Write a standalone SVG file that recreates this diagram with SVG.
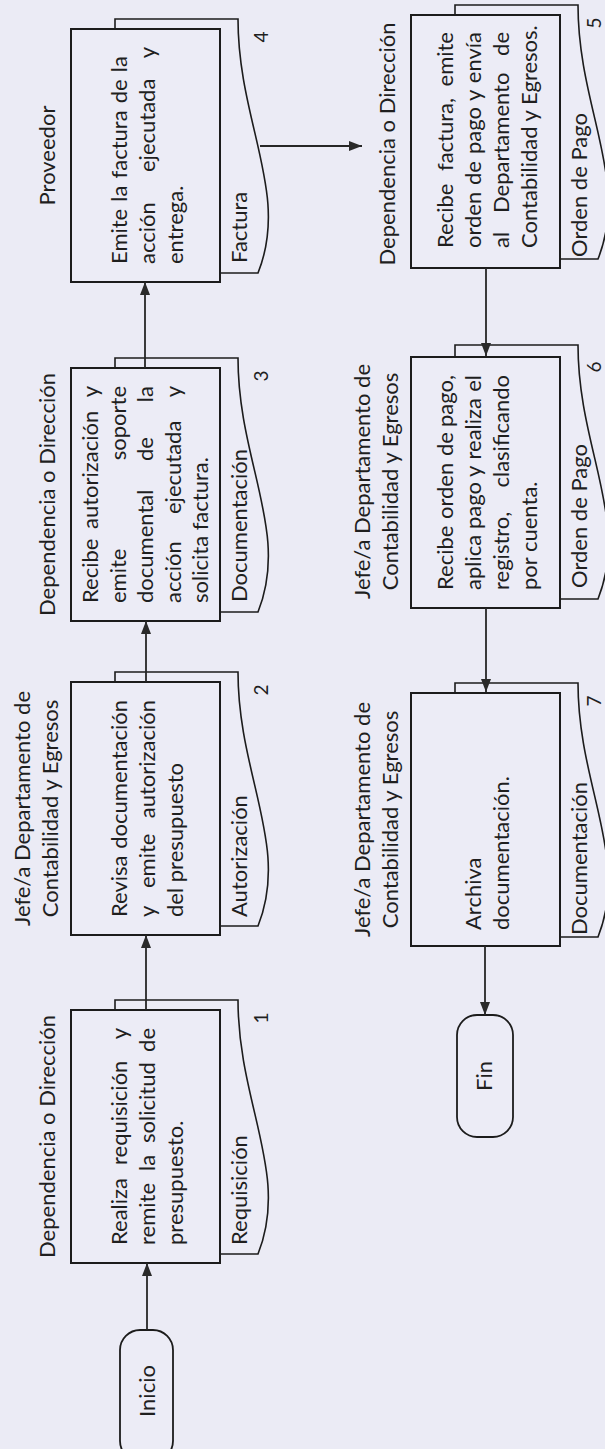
<svg xmlns="http://www.w3.org/2000/svg" width="605" height="1449" viewBox="0 0 605 1449">
  <style>
    .bg { fill: #ebebf5; }
    .box { fill: #ececf6; stroke: #1c1c1c; stroke-width: 2; }
    .doc { fill: #ececf6; stroke: #1c1c1c; stroke-width: 1.6; }
    .term { fill: #ececf6; stroke: #1c1c1c; stroke-width: 1.8; }
    text { font-family: Lato, "Liberation Sans", sans-serif; font-size: 22px; fill: #1f1f1f; }
    .c { text-anchor: middle; }
    .e { text-anchor: end; }
    .num { font-size: 19px; text-anchor: middle; }
    .conn { stroke: #262626; stroke-width: 1.8; fill: none; marker-end: url(#arrow); }
  </style>
  <defs>
    <marker id="arrow" markerUnits="userSpaceOnUse" viewBox="0 0 13 10" markerWidth="13" markerHeight="10" refX="13" refY="5" orient="auto">
      <path d="M0,0 L13,5 L0,10 Z" fill="#2a2a2a"/>
    </marker>
    <!-- document shape sitting behind each process box (box-relative coordinates) -->
    <path id="docShape" d="M9,44 H263 V167 C159,167 89,219 9,187 Z"/>
  </defs>

  <rect class="bg" x="0" y="0" width="605" height="1449"/>

  <!-- the flowchart is laid out landscape and turned a quarter turn -->
  <g transform="translate(0,1449) rotate(-90)">

    <g id="inicio">
      <rect class="term" x="-12" y="120" width="131" height="53" rx="20" ry="20"/>
      <text class="c" x="58" y="155">Inicio</text>
    </g>

    <g id="step1" transform="translate(186,71)">
      <text class="c" x="126.5" y="-16">Dependencia o Dirección</text>
      <use href="#docShape" class="doc"/>
      <rect class="box" x="0" y="0" width="253" height="149"/>
      <text y="56"><tspan x="18">Realiza</tspan><tspan x="98">requisición</tspan><tspan x="235" class="e">y</tspan></text>
      <text y="84"><tspan x="18">remite</tspan><tspan x="92">la</tspan><tspan x="120">solicitud</tspan><tspan x="235" class="e">de</tspan></text>
      <text x="18" y="112">presupuesto.</text>
      <text x="18" y="176">Requisición</text>
      <text class="num" x="245" y="197">1</text>
    </g>

    <g id="step2" transform="translate(514,71)">
      <text class="c" x="126.5" y="-41">Jefe/a Departamento de</text>
      <text class="c" x="126.5" y="-13">Contabilidad y Egresos</text>
      <use href="#docShape" class="doc"/>
      <rect class="box" x="0" y="0" width="253" height="149"/>
      <text y="56"><tspan x="18">Revisa</tspan><tspan x="235" class="e">documentación</tspan></text>
      <text y="84"><tspan x="18">y</tspan><tspan x="47">emite</tspan><tspan x="235" class="e">autorización</tspan></text>
      <text x="18" y="112">del presupuesto</text>
      <text x="18" y="176">Autorización</text>
      <text class="num" x="245" y="197">2</text>
    </g>

    <g id="step3" transform="translate(828,71)">
      <text class="c" x="126.5" y="-16">Dependencia o Dirección</text>
      <use href="#docShape" class="doc"/>
      <rect class="box" x="0" y="0" width="253" height="149"/>
      <text y="27"><tspan x="18">Recibe</tspan><tspan x="92">autorización</tspan><tspan x="235" class="e">y</tspan></text>
      <text y="54.5"><tspan x="18">emite</tspan><tspan x="235" class="e">soporte</tspan></text>
      <text y="82"><tspan x="18">documental</tspan><tspan x="160">de</tspan><tspan x="235" class="e">la</tspan></text>
      <text y="109.5"><tspan x="18">acción</tspan><tspan x="107">ejecutada</tspan><tspan x="235" class="e">y</tspan></text>
      <text x="18" y="137">solicita factura.</text>
      <text x="19" y="176">Documentación</text>
      <text class="num" x="245" y="197">3</text>
    </g>

    <g id="step4" transform="translate(1167,71)">
      <text class="c" x="126.5" y="-16">Proveedor</text>
      <use href="#docShape" class="doc"/>
      <rect class="box" x="0" y="0" width="253" height="149"/>
      <text x="18" y="56" word-spacing="1.5">Emite la factura de la</text>
      <text y="84"><tspan x="18">acción</tspan><tspan x="110">ejecutada</tspan><tspan x="235" class="e">y</tspan></text>
      <text x="18" y="112">entrega.</text>
      <text x="19" y="176">Factura</text>
      <text class="num" x="245" y="197">4</text>
    </g>

    <g id="step5" transform="translate(1181,411)">
      <text class="c" x="124" y="-16">Dependencia o Dirección</text>
      <use href="#docShape" class="doc"/>
      <rect class="box" x="0" y="0" width="253" height="149"/>
      <text y="42"><tspan x="20">Recibe</tspan><tspan x="97">factura,</tspan><tspan x="236" class="e">emite</tspan></text>
      <text y="70"><tspan x="20">orden</tspan><tspan x="83">de</tspan><tspan x="114">pago</tspan><tspan x="167">y</tspan><tspan x="236" class="e">envía</tspan></text>
      <text y="98"><tspan x="20">al</tspan><tspan x="55">Departamento</tspan><tspan x="236" class="e">de</tspan></text>
      <text x="20" y="126">Contabilidad y Egresos.</text>
      <text x="11" y="176">Orden de Pago</text>
      <text class="num" x="245" y="190">5</text>
    </g>

    <g id="step6" transform="translate(841,411)">
      <text class="c" x="126.5" y="-41">Jefe/a Departamento de</text>
      <text class="c" x="126.5" y="-13">Contabilidad y Egresos</text>
      <use href="#docShape" class="doc"/>
      <rect class="box" x="0" y="0" width="251" height="149"/>
      <text y="42"><tspan x="18">Recibe</tspan><tspan x="89">orden</tspan><tspan x="152">de</tspan><tspan x="233" class="e">pago,</tspan></text>
      <text y="70"><tspan x="18">aplica</tspan><tspan x="79">pago</tspan><tspan x="131">y</tspan><tspan x="148.5">realiza</tspan><tspan x="233" class="e">el</tspan></text>
      <text y="98"><tspan x="18">registro,</tspan><tspan x="233" class="e">clasificando</tspan></text>
      <text x="18" y="126">por cuenta.</text>
      <text x="20" y="176">Orden de Pago</text>
      <text class="num" x="241" y="190">6</text>
    </g>

    <g id="step7" transform="translate(503,411)">
      <text class="c" x="126.5" y="-41">Jefe/a Departamento de</text>
      <text class="c" x="126.5" y="-13">Contabilidad y Egresos</text>
      <use href="#docShape" class="doc"/>
      <rect class="box" x="0" y="0" width="253" height="149"/>
      <text x="16" y="70">Archiva</text>
      <text x="16" y="98">documentación.</text>
      <text x="11" y="176">Documentación</text>
      <text class="num" x="245" y="190">7</text>
    </g>

    <g id="fin">
      <rect class="term" x="312" y="457" width="122" height="56" rx="20" ry="20"/>
      <text class="c" x="373" y="492">Fin</text>
    </g>

    <g id="connectors">
      <path class="conn" d="M119,147 H186"/>
      <path class="conn" d="M439,146 H514"/>
      <path class="conn" d="M767,146 H828"/>
      <path class="conn" d="M1081,145 H1167"/>
      <path class="conn" d="M1303,260 V362"/>
      <path class="conn" d="M1181,486 H1093"/>
      <path class="conn" d="M841,486 H757"/>
      <path class="conn" d="M503,485 H434"/>
    </g>
  </g>
</svg>
